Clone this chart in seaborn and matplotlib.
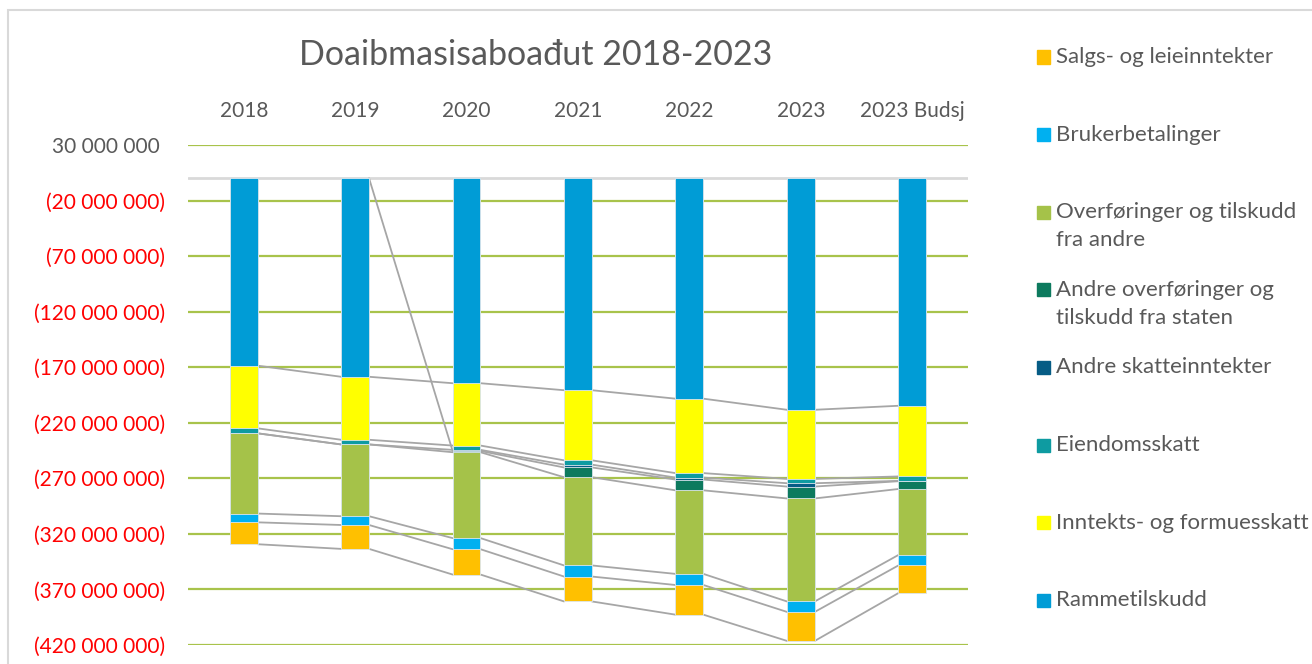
import numpy as np
import matplotlib
matplotlib.use("Agg")
import matplotlib.pyplot as plt
import seaborn as sns
from matplotlib.patches import Rectangle

# categories (top axis)
years = ["2018", "2019", "2020", "2021", "2022", "2023", "2023 Budsj"]

# income per post in million NOK, listed in stacking order from zero downwards
rammetilskudd = [168.6, 178.6, 184.4, 190.7, 198.3, 208.3, 204.7]
inntektsskatt = [56.4, 56.7, 56.1, 63.1, 67.0, 62.2, 63.6]
eiendomsskatt = [4.5, 4.2, 3.9, 3.9, 4.0, 3.9, 4.0]
andre_skatter = [np.nan, np.nan, 1.0, 2.5, 1.8, 3.0, 0.3]
andre_stat = [0.0, 0.0, 1.1, 8.8, 9.7, 10.7, 7.0]
overforinger_andre = [72.2, 64.6, 77.3, 79.4, 75.2, 92.7, 59.4]
brukerbetalinger = [7.9, 7.9, 10.0, 10.0, 10.0, 9.4, 9.4]
salg_leie = [19.7, 21.5, 22.8, 22.4, 26.7, 26.1, 24.9]

series_names = [
    "Rammetilskudd",
    "Inntekts- og formuesskatt",
    "Eiendomsskatt",
    "Andre skatteinntekter",
    "Andre overføringer og\ntilskudd fra staten",
    "Overføringer og tilskudd\nfra andre",
    "Brukerbetalinger",
    "Salgs- og leieinntekter",
]
colors = ["#009CD6", "#FFFF00", "#0E9BA1", "#065C85", "#0D7A5E",
          "#A5C249", "#00B0F0", "#FFC000"]

title = "Doaibmasisaboađut 2018-2023"
yticks = np.arange(30e6, -421e6, -50e6)

W, H = 1312, 664
sns.set_theme(style="white")
plt.rcParams["font.family"] = ["Lato", "DejaVu Sans"]
TXT = "#595959"

fig = plt.figure(figsize=(W / 100, H / 100), dpi=100)
ax = fig.add_axes([188 / W, 1 - 645 / H, 780 / W, 500 / H])

stack = [rammetilskudd, inntektsskatt, eiendomsskatt, andre_skatter,
         andre_stat, overforinger_andre, brukerbetalinger, salg_leie]
vals = -np.array(stack, dtype=float) * 1e6
cum = np.nancumsum(vals, axis=0)

bar_w = 0.25
# draw outermost cumulative bar first so inner layers paint over it
for k in reversed(range(len(stack))):
    sns.barplot(x=years, y=cum[k], color=colors[k], width=bar_w, saturation=1,
                errorbar=None, edgecolor="#DCE6EE", linewidth=0.6, zorder=3, ax=ax)

# series lines between neighbouring bars (missing values start from zero)
for k in range(len(stack)):
    missing = np.isnan(vals[k])
    ends = np.where(missing, 0, cum[k])
    for i in range(len(years) - 1):
        if missing[i] and missing[i + 1]:
            continue
        ax.plot([i + bar_w / 2, i + 1 - bar_w / 2], [ends[i], ends[i + 1]],
                color="#A6A6A6", lw=1.3, zorder=2)

ax.axhline(0, color="#D9D9D9", lw=2, zorder=1)
ax.set_xlim(-0.5, len(years) - 0.5)
ax.set_ylim(-420e6, 30e6)
ax.set_yticks(yticks)
labels = []
for v in yticks:
    s = f"{abs(v):,.0f}".replace(",", " ")
    labels.append(f"({s})" if v < 0 else s + " ")
ax.set_yticklabels(labels, fontsize=15)
for lab, v in zip(ax.get_yticklabels(), yticks):
    lab.set_color("#FF0000" if v < 0 else TXT)
ax.grid(axis="y", color="#A8C34B", lw=1.6)
ax.grid(axis="x", visible=False)
ax.set_axisbelow(True)
for s in ax.spines.values():
    s.set_visible(False)
ax.xaxis.tick_top()
ax.tick_params(axis="x", length=0, pad=17, labelsize=15, labelcolor=TXT)
ax.tick_params(axis="y", length=0, pad=16.5)
ax.set_xlabel("")
ax.set_ylabel("")

fig.text(536 / W, 1 - 55 / H, title, ha="center", va="center",
         fontsize=24.5, color=TXT)

# legend, top to bottom reversed from stacking order
for j, k in enumerate(reversed(range(len(stack)))):
    yc = 57 + 77.6 * j
    fig.add_artist(Rectangle((1037 / W, 1 - (yc + 6.5) / H), 13 / W, 13 / H,
                             transform=fig.transFigure, color=colors[k]))
    for n, line in enumerate(series_names[k].split("\n")):
        fig.text(1056 / W, 1 - (yc + 28 * n) / H, line, ha="left", va="center",
                 fontsize=16, color=TXT)

# chart border
fig.add_artist(Rectangle((8 / W, -0.1), 1.2, 1 - 10 / H + 0.1, transform=fig.transFigure,
                         fill=False, edgecolor="#D9D9D9", lw=1.5))

fig.savefig("out.png", dpi=100)
